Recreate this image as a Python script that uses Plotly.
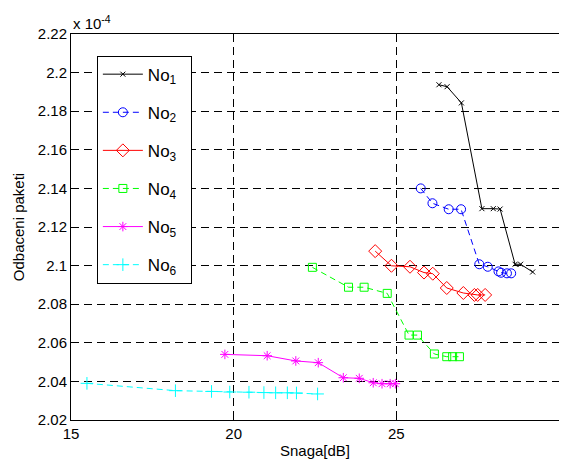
import plotly.graph_objects as go

# Data (y in units of 1e-4)
x1 = [26.31, 26.56, 27.00, 27.63, 27.98, 28.19, 28.65, 28.82, 29.19]
y1 = [2.1937, 2.1927, 2.1843, 2.1295, 2.1295, 2.1293, 2.1007, 2.1007, 2.0967]

x2 = [25.75, 26.11, 26.61, 26.99, 27.55, 27.81, 28.14, 28.22, 28.40, 28.53]
y2 = [2.1400, 2.1323, 2.1292, 2.1292, 2.1007, 2.0994, 2.0970, 2.0963, 2.0960, 2.0960]

x3 = [24.35, 24.85, 25.42, 25.85, 26.12, 26.55, 27.06, 27.40, 27.50, 27.73]
y3 = [2.1075, 2.0999, 2.0994, 2.0964, 2.0958, 2.0884, 2.0858, 2.0848, 2.0848, 2.0848]

x4 = [22.42, 23.53, 24.01, 24.72, 25.39, 25.65, 26.17, 26.55, 26.73, 26.94]
y4 = [2.0991, 2.0888, 2.0888, 2.0856, 2.0640, 2.0640, 2.0542, 2.0528, 2.0528, 2.0528]

x5 = [19.73, 21.03, 21.91, 22.60, 23.37, 23.86, 24.29, 24.56, 24.81, 24.97]
y5 = [2.0540, 2.0533, 2.0506, 2.0497, 2.0419, 2.0416, 2.0393, 2.0388, 2.0388, 2.0388]

x6 = [15.49, 18.21, 19.32, 19.88, 20.47, 20.93, 21.29, 21.65, 21.93, 22.58]
y6 = [2.0390, 2.0352, 2.0348, 2.0345, 2.0344, 2.0342, 2.0341, 2.0341, 2.0340, 2.0335]

names = ["No<sub>1</sub>", "No<sub>2</sub>", "No<sub>3</sub>", "No<sub>4</sub>", "No<sub>5</sub>", "No<sub>6</sub>"]
xticks = [15, 20, 25, 30]
yticks = [2.02, 2.04, 2.06, 2.08, 2.10, 2.12, 2.14, 2.16, 2.18, 2.20, 2.22]
ytick_text = ["2.02", "2.04", "2.06", "2.08", "2.1", "2.12", "2.14", "2.16", "2.18", "2.2", "2.22"]

series = [
    (x1, y1, "black", "solid", "x-thin-open", 5),
    (x2, y2, "#0000ff", "6px,4px", "circle-open", 9),
    (x3, y3, "#ff0000", "solid", "diamond-open", 10),
    (x4, y4, "#00ff00", "6px,4px", "square-open", 8),
    (x5, y5, "#ff00ff", "solid", "asterisk-open", 8),
    (x6, y6, "#00ffff", "6px,4px", "cross-thin-open", 9),
]

fig = go.Figure()
for i, (xs, ys, c, dash, sym, sz) in enumerate(series):
    fig.add_trace(go.Scatter(
        x=xs, y=ys, mode="lines+markers", name=names[i] + "&nbsp;&nbsp;",
        legendgroup=f"g{i}",
        line=dict(color=c, width=1, dash=dash),
        marker=dict(symbol=sym, size=sz, color=c, line=dict(color=c, width=1)),
    ))

FAM = "Liberation Sans, Arial, sans-serif"
font = dict(family=FAM, size=15, color="black")
# page body has an 8px margin: figure is sized/offset to compensate
fig.update_layout(
    width=559, height=451,
    margin=dict(l=63, r=8, t=26, b=39, autoexpand=False),
    paper_bgcolor="white", plot_bgcolor="white",
    font=font,
    showlegend=True,
    legend=dict(
        x=0.053, y=0.944, xanchor="left", yanchor="top",
        bgcolor="white", bordercolor="black", borderwidth=1,
        font=dict(family=FAM, size=17, color="black"),
        tracegroupgap=13, itemwidth=40,
    ),
    xaxis=dict(
        range=[15, 30], tickvals=xticks, ticktext=[str(v) for v in xticks],
        showgrid=True, gridcolor="black", griddash="8px,5px", gridwidth=1,
        showline=True, linecolor="black", linewidth=1, mirror="ticks",
        ticks="inside", ticklen=5, tickcolor="black",
        zeroline=False, automargin=False, ticklabelstandoff=0,
        title=dict(text="Snaga[dB]", standoff=7, font=font),
    ),
    yaxis=dict(
        range=[2.02, 2.22], tickvals=yticks, ticktext=ytick_text,
        showgrid=True, gridcolor="black", griddash="8px,5px", gridwidth=1,
        showline=True, linecolor="black", linewidth=1, mirror="ticks",
        ticks="inside", ticklen=5, tickcolor="black",
        zeroline=False, automargin=False, ticklabelstandoff=0,
        title=dict(text="Odbaceni paketi", standoff=9, font=font),
    ),
    annotations=[dict(
        text="x 10<sup>-4</sup>", x=0, y=1, xref="paper", yref="paper",
        xanchor="left", yanchor="bottom", showarrow=False, font=font,
    )],
)

fig.write_html("out.html")
